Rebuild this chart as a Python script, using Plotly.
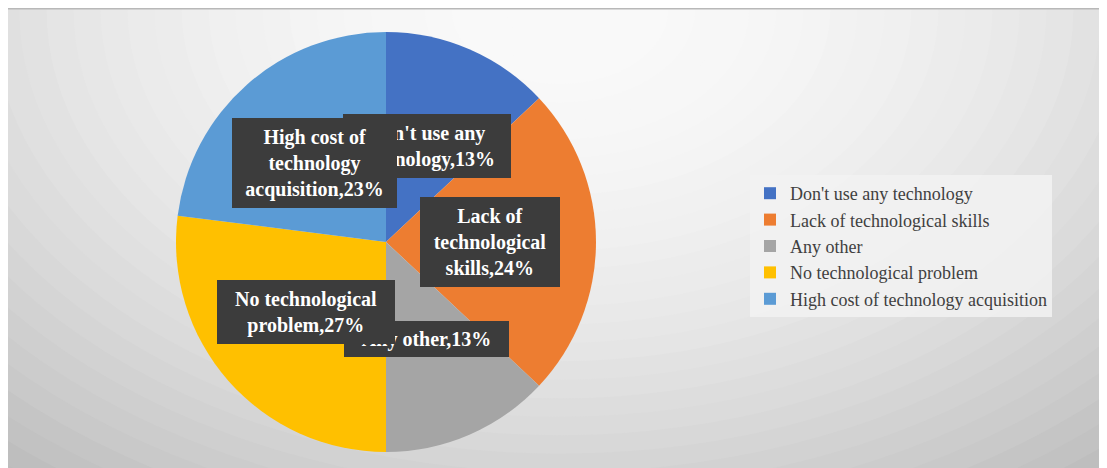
import plotly.graph_objects as go

# ---- data ----
categories = ["Don't use any technology", "Lack of technological skills", "Any other",
              "No technological problem", "High cost of technology acquisition"]
values = [13, 24, 13, 27, 23]
label_texts = ["Don't use any<br>technology", "Lack of<br>technological<br>skills", "Any other",
               "No technological<br>problem", "High cost of<br>technology<br>acquisition"]
colors = ["#4472C4", "#ED7D31", "#A5A5A5", "#FFC000", "#5B9BD5"]

W, H = 1107, 468
OFF = 8                     # page body margin
FW, FH = W - OFF, H - OFF   # figure size


def px_x(x):
    return (x - OFF) / FW


def px_y(y):
    return 1 - (y - OFF) / FH


fig = go.Figure()
fig.add_trace(go.Pie(
    labels=categories, values=values, sort=False, direction="clockwise", rotation=0,
    marker=dict(colors=colors, line=dict(width=0)),
    textinfo="none", hoverinfo="label+percent",
    domain=dict(x=[px_x(176), px_x(596)], y=[px_y(452), px_y(32)]),
))

# ---- background: radial gray gradient built from stacked ellipses ----
shapes = []
cx, cy, rx, ry = 560, 10, 760, 520
n = 45
for i in range(n):
    s = 1.6 * (1 - i / n)
    c = int(max(188, min(250, 250 - 46 * s * s)))
    col = f"rgb({c},{c},{c})"
    shapes.append(dict(type="circle", xref="paper", yref="paper", layer="below",
                       x0=px_x(cx - s * rx), x1=px_x(cx + s * rx),
                       y0=px_y(cy + s * ry), y1=px_y(cy - s * ry),
                       fillcolor=col, line=dict(width=0)))
# top frame line
shapes.append(dict(type="rect", xref="paper", yref="paper", layer="below", x0=0, x1=1,
                   y0=px_y(9.5), y1=1, fillcolor="#b8b8b8", line=dict(width=0)))

# ---- data labels (dark boxes) ----
boxes = [  # centre x, centre y, width, height (pixels, page coords)
    (427, 146, 168, 64),
    (490, 242, 140, 90),
    (426, 339, 165, 36),
    (306, 312, 178, 64),
    (314, 163, 165, 90),
]
annotations = []
for txt, v, (bx, by, bw, bh) in zip(label_texts, values, boxes):
    annotations.append(dict(
        text=f"<b>{txt},{v}%</b>", xref="paper", yref="paper",
        x=px_x(bx), y=px_y(by), xanchor="center", yanchor="middle",
        width=bw, height=bh, align="center", valign="middle",
        showarrow=False, bgcolor="#3c3c3c", borderpad=0, borderwidth=0,
        font=dict(family="Liberation Serif", size=20, color="white"),
    ))

fig.update_layout(
    width=FW, height=FH, margin=dict(l=0, r=0, t=0, b=0),
    paper_bgcolor="white", plot_bgcolor="white",
    shapes=shapes, annotations=annotations,
    showlegend=True,
    legend=dict(x=px_x(750), y=px_y(175), xanchor="left", yanchor="top",
                entrywidth=300, entrywidthmode="pixels",
                bgcolor="rgba(242,242,242,0.85)", borderwidth=0,
                font=dict(family="Liberation Serif", size=18, color="#404040")),
)

fig.write_html("out.html")
